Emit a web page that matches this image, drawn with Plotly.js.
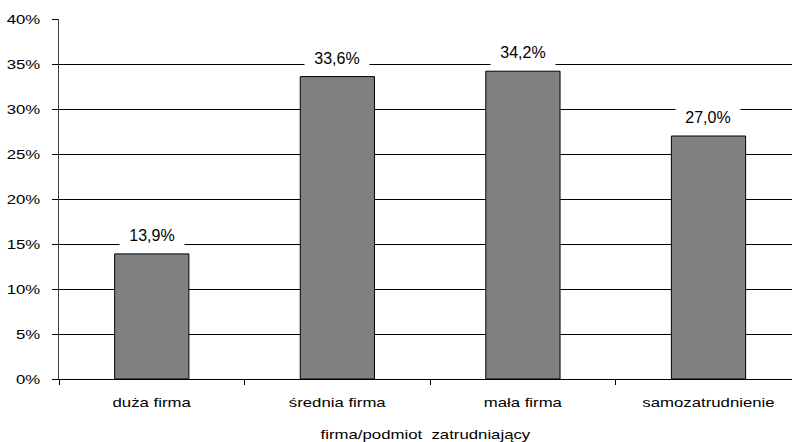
<!DOCTYPE html>
<html>
<head>
<meta charset="utf-8">
<script src="https://cdn.plot.ly/plotly-3.0.1.min.js"></script>
<style>
  html, body { margin: 0; padding: 0; background: #fff; overflow: hidden; }
  #chart { width: 792px; height: 442px; }
</style>
</head>
<body>
<div id="chart"></div>
<script>
// Share of respondents by type of employer
const categories = ['duża firma', 'średnia firma', 'mała firma', 'samozatrudnienie'];
const shares = [13.9, 33.6, 34.2, 27.0];
const axisTitle = 'firma/podmiot  zatrudniający';

const fontFamily = '"Liberation Sans", Arial, Helvetica, sans-serif';
const widen = 1.29; // horizontal widening of the axis lettering

const bar = {
  type: 'bar',
  x: categories,
  y: shares,
  width: 0.4,
  marker: { color: '#808080', line: { color: '#000', width: 1 } },
  hoverinfo: 'skip'
};

// Value labels above the bars, on a white box that interrupts the gridlines
const labels = categories.map((c, i) => ({
  x: c,
  y: shares[i],
  text: shares[i].toFixed(1).replace('.', ',') + '%',
  showarrow: false,
  xref: 'x',
  yref: 'y',
  yanchor: 'middle',
  yshift: 19,
  bgcolor: '#fff',
  width: 64,
  height: 28,
  borderpad: 0,
  font: { family: fontFamily, size: 16, color: '#000' }
}));

const layout = {
  width: 792,
  height: 442,
  margin: { l: 59, r: 0, t: 19, b: 63, pad: 0 },
  paper_bgcolor: '#fff',
  plot_bgcolor: '#fff',
  showlegend: false,
  font: { family: fontFamily, size: 13, color: '#000' },
  xaxis: {
    type: 'category',
    range: [-0.5, 3.45],
    showline: true,
    linecolor: '#000',
    linewidth: 1,
    ticks: 'outside',
    tickson: 'boundaries',
    ticklen: 5,
    tickcolor: '#000',
    ticklabelstandoff: 11,
    showgrid: false,
    zeroline: false,
    tickfont: { family: fontFamily, size: 13, color: '#000' },
    title: { text: axisTitle, font: { family: fontFamily, size: 13, color: '#000' }, standoff: 26 }
  },
  yaxis: {
    range: [0, 40],
    dtick: 5,
    tick0: 0,
    ticksuffix: '%',
    showline: true,
    linecolor: '#404040',
    linewidth: 1,
    ticks: 'outside',
    ticklen: 6,
    tickcolor: '#000',
    ticklabelstandoff: 9,
    showgrid: true,
    gridcolor: '#000',
    gridwidth: 1,
    zeroline: false,
    tickfont: { family: fontFamily, size: 13, color: '#000' }
  },
  annotations: labels,
  bargap: 0.6
};

// Widen a text element horizontally about its anchor (right edge or centre)
function widenText(el, anchorRight) {
  const bb = el.getBBox();
  const ax = anchorRight ? bb.x + bb.width : bb.x + bb.width / 2;
  const orig = el.getAttribute('transform') || '';
  el.setAttribute('transform',
    orig + ' translate(' + ax + ',0) scale(' + widen + ',1) translate(' + (-ax) + ',0)');
}

Plotly.newPlot('chart', [bar], layout, { staticPlot: true, displayModeBar: false }).then(gd => {
  gd.querySelectorAll('.ytick text').forEach(t => widenText(t, true));
  gd.querySelectorAll('.xtick text').forEach(t => widenText(t, false));
  gd.querySelectorAll('.xtitle').forEach(t => widenText(t, false));
});
</script>
</body>
</html>
